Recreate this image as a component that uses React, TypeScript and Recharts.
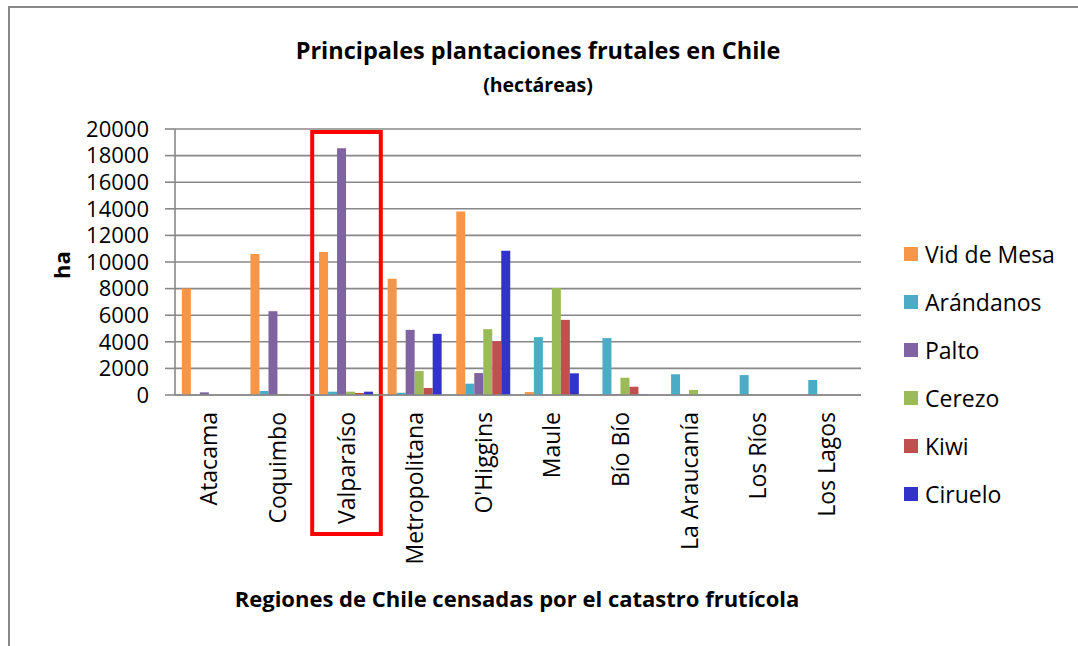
import { BarChart, Bar, XAxis, YAxis, CartesianGrid, ReferenceArea } from 'recharts';

const regions = [
  'Atacama',
  'Coquimbo',
  'Valparaíso',
  'Metropolitana',
  "O'Higgins",
  'Maule',
  'Bío Bío',
  'La Araucanía',
  'Los Ríos',
  'Los Lagos',
];

const vidDeMesa = [8000, 10600, 10750, 8750, 13800, 220, 0, 0, 0, 0];
const arandanos = [0, 300, 250, 170, 850, 4350, 4280, 1560, 1500, 1130];
const palto = [200, 6300, 18550, 4900, 1650, 0, 50, 0, 0, 0];
const cerezo = [0, 80, 250, 1800, 4950, 8050, 1300, 380, 0, 0];
const kiwi = [0, 0, 150, 530, 4050, 5650, 620, 0, 0, 0];
const ciruelo = [0, 0, 250, 4600, 10850, 1630, 30, 0, 0, 0];

const yTicks = [0, 2000, 4000, 6000, 8000, 10000, 12000, 14000, 16000, 18000, 20000];

const series = [
  { key: 'vid', name: 'Vid de Mesa', color: '#F79646', values: vidDeMesa },
  { key: 'arandanos', name: 'Arándanos', color: '#4BACC6', values: arandanos },
  { key: 'palto', name: 'Palto', color: '#8064A2', values: palto },
  { key: 'cerezo', name: 'Cerezo', color: '#9BBB59', values: cerezo },
  { key: 'kiwi', name: 'Kiwi', color: '#C0504D', values: kiwi },
  { key: 'ciruelo', name: 'Ciruelo', color: '#3333CC', values: ciruelo },
];

const rows = regions.map((region, i) => {
  const row: Record<string, string | number> = { region };
  series.forEach((s) => {
    row[s.key] = s.values[i];
  });
  return row;
});

const FONT = '"Open Sans", sans-serif';
const GRID = '#888888';

function RegionTick({ x, y, payload }: any) {
  return (
    <text
      x={x}
      y={y}
      dx={-17}
      dy="0.35em"
      transform={`rotate(-90, ${x}, ${y})`}
      textAnchor="end"
      fontFamily={FONT}
      fontSize={23}
      fill="#000"
    >
      {payload.value}
    </text>
  );
}

export default function App() {
  return (
    <div
      style={{
        position: 'absolute',
        left: 0,
        top: 0,
        width: 1078,
        height: 646,
        overflow: 'hidden',
        background: '#fff',
        fontFamily: FONT,
        color: '#000',
      }}
    >
      <div
        style={{
          position: 'absolute',
          left: 8,
          top: 6,
          width: 1200,
          height: 800,
          borderLeft: `2px solid ${GRID}`,
          borderTop: `2px solid ${GRID}`,
        }}
      />
      <div
        style={{
          position: 'absolute',
          left: 0,
          width: 1076,
          top: 34,
          textAlign: 'center',
          fontWeight: 700,
          fontSize: 23.5,
          lineHeight: '33px',
        }}
      >
        Principales plantaciones frutales en Chile
        <br />
        <span style={{ fontSize: 19.5 }}>(hectáreas)</span>
      </div>

      <div style={{ position: 'absolute', left: 0, top: 0 }}>
        <BarChart
          width={1078}
          height={646}
          data={rows}
          margin={{ top: 129, right: 217, bottom: 0, left: 0 }}
          barCategoryGap="10%"
          barGap={0}
        >
          <CartesianGrid vertical={false} stroke={GRID} strokeWidth={1.6} />
          <XAxis
            dataKey="region"
            height={251}
            tickLine={false}
            tickSize={0}
            tickMargin={0}
            axisLine={{ stroke: GRID, strokeWidth: 1.6 }}
            tick={<RegionTick />}
            interval={0}
          />
          <YAxis
            width={175}
            domain={[0, 20000]}
            ticks={yTicks}
            interval={0}
            tickSize={10}
            tickMargin={16}
            tickLine={{ stroke: GRID, strokeWidth: 1.6 }}
            axisLine={{ stroke: GRID, strokeWidth: 1.6 }}
            tick={{ fontFamily: FONT, fontSize: 22, fill: '#000' }}
          />
          {series.map((s) => (
            <Bar key={s.key} dataKey={s.key} name={s.name} fill={s.color} isAnimationActive={false} />
          ))}
          <ReferenceArea
            x1="Valparaíso"
            x2="Valparaíso"
            y1={-10450}
            y2={19780}
            ifOverflow="visible"
            fill="none"
            fillOpacity={0}
            stroke="#ff0000"
            strokeWidth={4}
          />
        </BarChart>
      </div>

      <div
        style={{
          position: 'absolute',
          left: 61,
          top: 265,
          transform: 'translate(-50%, -50%) rotate(-90deg)',
          fontWeight: 700,
          fontSize: 22,
        }}
      >
        ha
      </div>

      <div
        style={{
          position: 'absolute',
          left: 0,
          width: 1034,
          top: 583,
          textAlign: 'center',
          fontWeight: 700,
          fontSize: 22,
        }}
      >
        Regiones de Chile censadas por el catastro frutícola
      </div>

      {series.map((s, i) => (
        <div
          key={s.key}
          style={{
            position: 'absolute',
            left: 904,
            top: 254 + i * 48,
            transform: 'translateY(-50%)',
            display: 'flex',
            alignItems: 'center',
            fontSize: 23,
            whiteSpace: 'nowrap',
          }}
        >
          <span style={{ width: 14, height: 14, background: s.color, marginRight: 7 }} />
          {s.name}
        </div>
      ))}
    </div>
  );
}
